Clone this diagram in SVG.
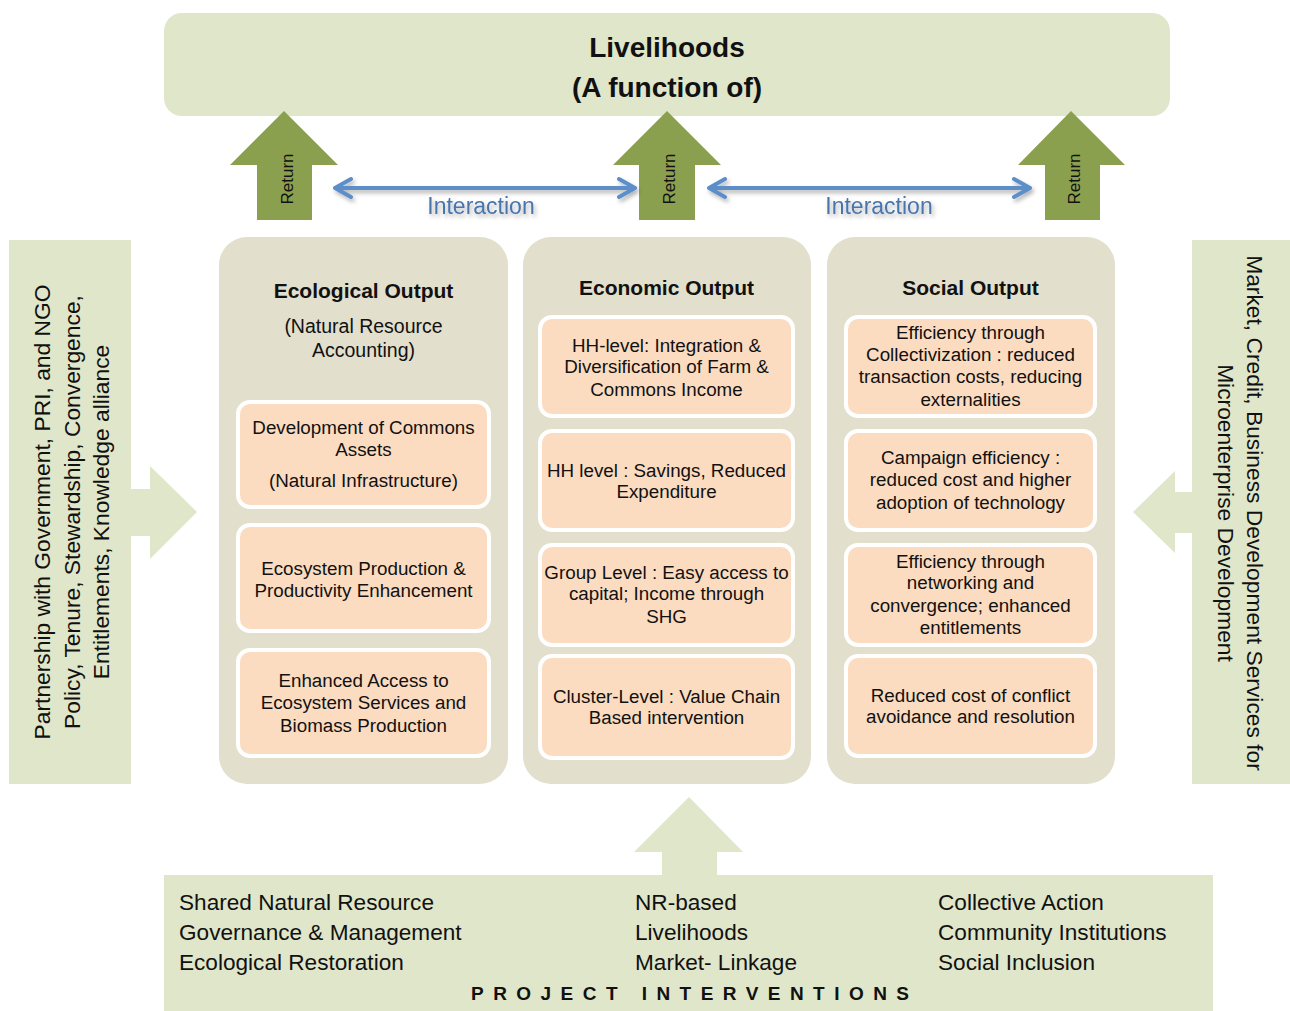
<svg xmlns="http://www.w3.org/2000/svg" width="1290" height="1011" viewBox="0 0 1290 1011">
  <defs>
    <filter id="softShadow" x="-10%" y="-50%" width="120%" height="200%">
      <feDropShadow dx="2" dy="3" stdDeviation="2" flood-color="#000" flood-opacity="0.3"/>
    </filter>
    <style>
      text { font-family: "Liberation Sans", Arial, sans-serif; fill: #111; }
      .panel { fill: #dfe6c9; }
      .column { fill: #e2dfcc; }
      .card { fill: #fbdcc0; stroke: #ffffff; stroke-width: 4; }
      .ret { fill: #8ba04e; }
      .link { fill: none; stroke: #5b8ec9; stroke-width: 4; stroke-linecap: round; stroke-linejoin: round; }
      .title { font-size: 28px; font-weight: bold; text-anchor: middle; }
      .head { font-size: 21px; font-weight: bold; text-anchor: middle; }
      .sub { font-size: 19.5px; text-anchor: middle; }
      .card-t { font-size: 18.8px; text-anchor: middle; }
      .side { font-size: 22.8px; text-anchor: middle; }
      .retlbl { font-size: 17px; text-anchor: middle; }
      .inter { font-size: 23px; fill: #4a74ad; text-anchor: middle; }
      .base { font-size: 22.6px; }
    </style>
  </defs>

  <rect width="1290" height="1011" fill="#ffffff"/>

  <!-- Top goal box -->
  <g id="livelihoods">
    <rect class="panel" x="164" y="13" width="1006" height="103" rx="18"/>
    <text class="title" x="667" y="57">Livelihoods</text>
    <text class="title" x="667" y="97">(A function of)</text>
  </g>

  <!-- Left enabling panel -->
  <g id="partnership">
    <rect class="panel" x="9" y="240" width="122" height="544"/>
    <text class="side" transform="translate(50,512) rotate(-90)">Partnership with Government, PRI, and NGO</text>
    <text class="side" transform="translate(80,512) rotate(-90)">Policy, Tenure, Stewardship, Convergence,</text>
    <text class="side" transform="translate(109,512) rotate(-90)">Entitlements, Knowledge alliance</text>
  </g>

  <!-- Right enabling panel -->
  <g id="market">
    <rect class="panel" x="1192" y="240" width="98" height="544"/>
    <text class="side" transform="translate(1247,513) rotate(90)">Market, Credit, Business Development Services for</text>
    <text class="side" transform="translate(1218,513) rotate(90)">Microenterprise Development</text>
  </g>

  <!-- Ecological column -->
  <g id="ecological">
    <rect class="column" x="219" y="237" width="289" height="547" rx="28"/>
    <text class="head" x="363.5" y="298">Ecological Output</text>
    <text class="sub" x="363.5" y="333">(Natural Resource</text>
    <text class="sub" x="363.5" y="357">Accounting)</text>
  </g>
  <g id="eco-commons">
    <rect class="card" x="238" y="402" width="251" height="105" rx="12"/>
    <text class="card-t" x="363.5" y="434">Development of Commons</text>
    <text class="card-t" x="363.5" y="456">Assets</text>
    <text class="card-t" x="363.5" y="487">(Natural Infrastructure)</text>
  </g>
  <g id="eco-production">
    <rect class="card" x="238" y="525" width="251" height="106" rx="12"/>
    <text class="card-t" x="363.5" y="575">Ecosystem Production &amp;</text>
    <text class="card-t" x="363.5" y="597">Productivity Enhancement</text>
  </g>
  <g id="eco-access">
    <rect class="card" x="238" y="650" width="251" height="106" rx="12"/>
    <text class="card-t" x="363.5" y="687">Enhanced Access to</text>
    <text class="card-t" x="363.5" y="709">Ecosystem Services and</text>
    <text class="card-t" x="363.5" y="732">Biomass Production</text>
  </g>

  <!-- Economic column -->
  <g id="economic">
    <rect class="column" x="523" y="237" width="288" height="547" rx="28"/>
    <text class="head" x="666.5" y="295">Economic Output</text>
  </g>
  <g id="econ-hh-integration">
    <rect class="card" x="540" y="317" width="253" height="99" rx="12"/>
    <text class="card-t" x="666.5" y="352">HH-level: Integration &amp;</text>
    <text class="card-t" x="666.5" y="373">Diversification of Farm &amp;</text>
    <text class="card-t" x="666.5" y="396">Commons Income</text>
  </g>
  <g id="econ-hh-savings">
    <rect class="card" x="540" y="431" width="253" height="99" rx="12"/>
    <text class="card-t" x="666.5" y="477">HH level : Savings, Reduced</text>
    <text class="card-t" x="666.5" y="498">Expenditure</text>
  </g>
  <g id="econ-group">
    <rect class="card" x="540" y="545" width="253" height="100" rx="12"/>
    <text class="card-t" x="666.5" y="579">Group Level : Easy access to</text>
    <text class="card-t" x="666.5" y="600">capital; Income through</text>
    <text class="card-t" x="666.5" y="623">SHG</text>
  </g>
  <g id="econ-cluster">
    <rect class="card" x="540" y="656" width="253" height="102" rx="12"/>
    <text class="card-t" x="666.5" y="703">Cluster-Level : Value Chain</text>
    <text class="card-t" x="666.5" y="724">Based intervention</text>
  </g>

  <!-- Social column -->
  <g id="social">
    <rect class="column" x="827" y="237" width="288" height="547" rx="28"/>
    <text class="head" x="970.5" y="295">Social Output</text>
  </g>
  <g id="soc-collectivization">
    <rect class="card" x="846" y="317" width="249" height="99" rx="12"/>
    <text class="card-t" x="970.5" y="339">Efficiency through</text>
    <text class="card-t" x="970.5" y="361">Collectivization : reduced</text>
    <text class="card-t" x="970.5" y="383">transaction costs, reducing</text>
    <text class="card-t" x="970.5" y="406">externalities</text>
  </g>
  <g id="soc-campaign">
    <rect class="card" x="846" y="431" width="249" height="99" rx="12"/>
    <text class="card-t" x="970.5" y="464">Campaign efficiency :</text>
    <text class="card-t" x="970.5" y="486">reduced cost and higher</text>
    <text class="card-t" x="970.5" y="509">adoption of technology</text>
  </g>
  <g id="soc-networking">
    <rect class="card" x="846" y="545" width="249" height="100" rx="12"/>
    <text class="card-t" x="970.5" y="568">Efficiency through</text>
    <text class="card-t" x="970.5" y="589">networking and</text>
    <text class="card-t" x="970.5" y="612">convergence; enhanced</text>
    <text class="card-t" x="970.5" y="634">entitlements</text>
  </g>
  <g id="soc-conflict">
    <rect class="card" x="846" y="656" width="249" height="100" rx="12"/>
    <text class="card-t" x="970.5" y="702">Reduced cost of conflict</text>
    <text class="card-t" x="970.5" y="723">avoidance and resolution</text>
  </g>

  <!-- Bottom interventions panel -->
  <g id="interventions">
    <rect class="panel" x="164" y="875" width="1049" height="136"/>
    <text class="base" x="179" y="910">Shared Natural Resource</text>
    <text class="base" x="179" y="940">Governance &amp; Management</text>
    <text class="base" x="179" y="970">Ecological Restoration</text>
    <text class="base" x="635" y="910">NR-based</text>
    <text class="base" x="635" y="940">Livelihoods</text>
    <text class="base" x="635" y="970">Market- Linkage</text>
    <text class="base" x="938" y="910">Collective Action</text>
    <text class="base" x="938" y="940">Community Institutions</text>
    <text class="base" x="938" y="970">Social Inclusion</text>
    <text x="471" y="1000" font-size="19" font-weight="bold" textLength="438" lengthAdjust="spacing">PROJECT  INTERVENTIONS</text>
  </g>

  <!-- Connectors -->
  <g id="connectors">
    <!-- block arrows feeding the outputs -->
    <polygon class="panel" points="131,489 150,489 150,466 197,512 150,559 150,536 131,536"/>
    <polygon class="panel" points="1192,492 1175,492 1175,471 1133,512 1175,553 1175,533 1192,533"/>
    <polygon class="panel" points="662,876 662,852 634,852 689,797 743,852 717,852 717,876"/>

    <!-- return arrows up to livelihoods -->
    <polygon class="ret" points="257,220 257,165 230,165 284,111 338,165 312,165 312,220"/>
    <polygon class="ret" points="639,220 639,165 613,165 667,111 721,165 695,165 695,220"/>
    <polygon class="ret" points="1045,220 1045,165 1018,165 1071,111 1125,165 1100,165 1100,220"/>
    <text class="retlbl" transform="translate(293,179) rotate(-90)">Return</text>
    <text class="retlbl" transform="translate(675,179) rotate(-90)">Return</text>
    <text class="retlbl" transform="translate(1080,179) rotate(-90)">Return</text>

    <!-- interaction links -->
    <g filter="url(#softShadow)">
      <path class="link" d="M335,188 H635 M351,179 L335,188 L351,197 M619,179 L635,188 L619,197"/>
      <path class="link" d="M709,188 H1030 M725,179 L709,188 L725,197 M1014,179 L1030,188 L1014,197"/>
      <text class="inter" x="481" y="214">Interaction</text>
      <text class="inter" x="879" y="214">Interaction</text>
    </g>
  </g>
</svg>
